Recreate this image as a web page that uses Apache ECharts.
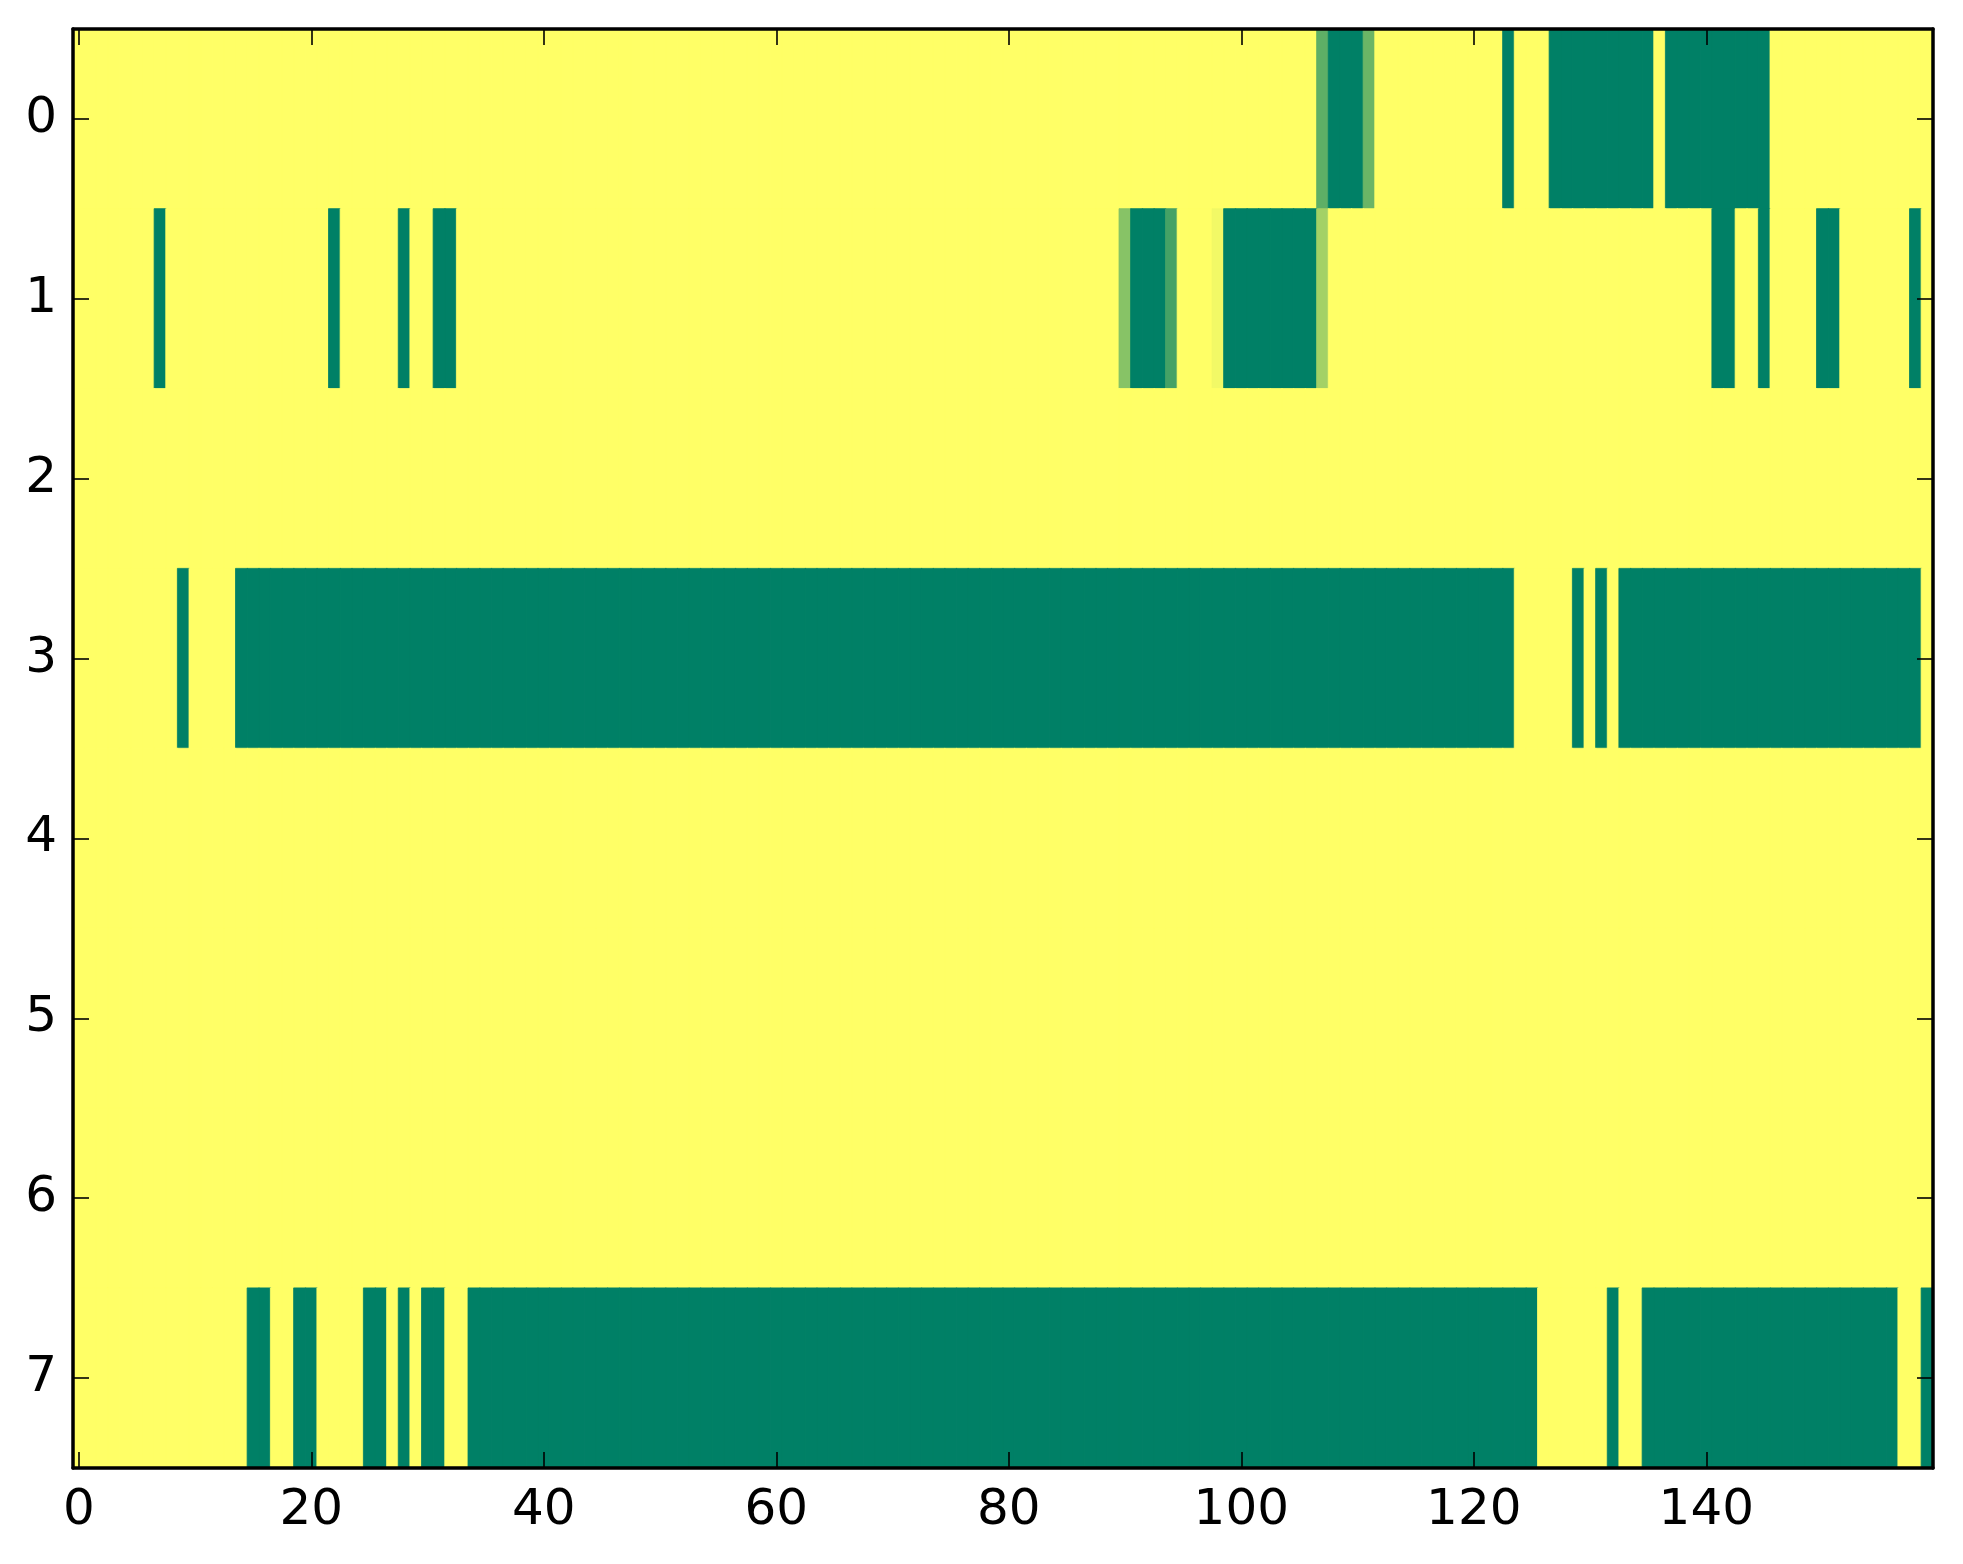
<!DOCTYPE html>
<html>
<head>
<meta charset="utf-8">
<script src="https://cdn.jsdelivr.net/npm/echarts@6/dist/echarts.min.js"></script>
<style>
html,body{margin:0;padding:0;background:#fff;}
#chart{width:1963px;height:1564px;}
</style>
</head>
<body>
<div id="chart"></div>
<script>
// Row labels (top to bottom) and x tick labels
const rowLabels = ['0','1','2','3','4','5','6','7'];
const xTickLabels = ['0','20','40','60','80','100','120','140'];
const columnCount = 160;
// colormap end points (value 0 -> green, value 1 -> yellow)
const colorLow = '#008066';
const colorHigh = '#ffff66';

// Cell values per row (0 = green, 1 = yellow), columns 0..159
const row0 = [
1,1,1,1,1,1,1,1,1,1, 1,1,1,1,1,1,1,1,1,1,
1,1,1,1,1,1,1,1,1,1, 1,1,1,1,1,1,1,1,1,1,
1,1,1,1,1,1,1,1,1,1, 1,1,1,1,1,1,1,1,1,1,
1,1,1,1,1,1,1,1,1,1, 1,1,1,1,1,1,1,1,1,1,
1,1,1,1,1,1,1,1,1,1, 1,1,1,1,1,1,1,1,1,1,
1,1,1,1,1,1,1,0.37,0,0, 0,0.42,1,1,1,1,1,1,1,1,
1,1,1,0,1,1,1,0,0,0, 0,0,0,0,0,0,1,0,0,0,
0,0,0,0,0,0,1,1,1,1, 1,1,1,1,1,1,1,1,1,1
];
const row1 = [
1,1,1,1,1,1,1,0,1,1, 1,1,1,1,1,1,1,1,1,1,
1,1,0,1,1,1,1,1,0,1, 1,0,0,1,1,1,1,1,1,1,
1,1,1,1,1,1,1,1,1,1, 1,1,1,1,1,1,1,1,1,1,
1,1,1,1,1,1,1,1,1,1, 1,1,1,1,1,1,1,1,1,1,
1,1,1,1,1,1,1,1,1,1, 0.53,0,0,0,0.27,1,1,1,0.95,0,
0,0,0,0,0,0,0,0.64,1,1, 1,1,1,1,1,1,1,1,1,1,
1,1,1,1,1,1,1,1,1,1, 1,1,1,1,1,1,1,1,1,1,
1,0,0,1,1,0,1,1,1,1, 0,0,1,1,1,1,1,1,0,1
];
const row2 = [
1,1,1,1,1,1,1,1,1,1, 1,1,1,1,1,1,1,1,1,1,
1,1,1,1,1,1,1,1,1,1, 1,1,1,1,1,1,1,1,1,1,
1,1,1,1,1,1,1,1,1,1, 1,1,1,1,1,1,1,1,1,1,
1,1,1,1,1,1,1,1,1,1, 1,1,1,1,1,1,1,1,1,1,
1,1,1,1,1,1,1,1,1,1, 1,1,1,1,1,1,1,1,1,1,
1,1,1,1,1,1,1,1,1,1, 1,1,1,1,1,1,1,1,1,1,
1,1,1,1,1,1,1,1,1,1, 1,1,1,1,1,1,1,1,1,1,
1,1,1,1,1,1,1,1,1,1, 1,1,1,1,1,1,1,1,1,1
];
const row3 = [
1,1,1,1,1,1,1,1,1,0, 1,1,1,1,0,0,0,0,0,0,
0,0,0,0,0,0,0,0,0,0, 0,0,0,0,0,0,0,0,0,0,
0,0,0,0,0,0,0,0,0,0, 0,0,0,0,0,0,0,0,0,0,
0,0,0,0,0,0,0,0,0,0, 0,0,0,0,0,0,0,0,0,0,
0,0,0,0,0,0,0,0,0,0, 0,0,0,0,0,0,0,0,0,0,
0,0,0,0,0,0,0,0,0,0, 0,0,0,0,0,0,0,0,0,0,
0,0,0,0,1,1,1,1,1,0, 1,0,1,0,0,0,0,0,0,0,
0,0,0,0,0,0,0,0,0,0, 0,0,0,0,0,0,0,0,0,1
];
const row4 = [
1,1,1,1,1,1,1,1,1,1, 1,1,1,1,1,1,1,1,1,1,
1,1,1,1,1,1,1,1,1,1, 1,1,1,1,1,1,1,1,1,1,
1,1,1,1,1,1,1,1,1,1, 1,1,1,1,1,1,1,1,1,1,
1,1,1,1,1,1,1,1,1,1, 1,1,1,1,1,1,1,1,1,1,
1,1,1,1,1,1,1,1,1,1, 1,1,1,1,1,1,1,1,1,1,
1,1,1,1,1,1,1,1,1,1, 1,1,1,1,1,1,1,1,1,1,
1,1,1,1,1,1,1,1,1,1, 1,1,1,1,1,1,1,1,1,1,
1,1,1,1,1,1,1,1,1,1, 1,1,1,1,1,1,1,1,1,1
];
const row5 = [
1,1,1,1,1,1,1,1,1,1, 1,1,1,1,1,1,1,1,1,1,
1,1,1,1,1,1,1,1,1,1, 1,1,1,1,1,1,1,1,1,1,
1,1,1,1,1,1,1,1,1,1, 1,1,1,1,1,1,1,1,1,1,
1,1,1,1,1,1,1,1,1,1, 1,1,1,1,1,1,1,1,1,1,
1,1,1,1,1,1,1,1,1,1, 1,1,1,1,1,1,1,1,1,1,
1,1,1,1,1,1,1,1,1,1, 1,1,1,1,1,1,1,1,1,1,
1,1,1,1,1,1,1,1,1,1, 1,1,1,1,1,1,1,1,1,1,
1,1,1,1,1,1,1,1,1,1, 1,1,1,1,1,1,1,1,1,1
];
const row6 = [
1,1,1,1,1,1,1,1,1,1, 1,1,1,1,1,1,1,1,1,1,
1,1,1,1,1,1,1,1,1,1, 1,1,1,1,1,1,1,1,1,1,
1,1,1,1,1,1,1,1,1,1, 1,1,1,1,1,1,1,1,1,1,
1,1,1,1,1,1,1,1,1,1, 1,1,1,1,1,1,1,1,1,1,
1,1,1,1,1,1,1,1,1,1, 1,1,1,1,1,1,1,1,1,1,
1,1,1,1,1,1,1,1,1,1, 1,1,1,1,1,1,1,1,1,1,
1,1,1,1,1,1,1,1,1,1, 1,1,1,1,1,1,1,1,1,1,
1,1,1,1,1,1,1,1,1,1, 1,1,1,1,1,1,1,1,1,1
];
const row7 = [
1,1,1,1,1,1,1,1,1,1, 1,1,1,1,1,0,0,1,1,0,
0,1,1,1,1,0,0,1,0,1, 0,0,1,1,0,0,0,0,0,0,
0,0,0,0,0,0,0,0,0,0, 0,0,0,0,0,0,0,0,0,0,
0,0,0,0,0,0,0,0,0,0, 0,0,0,0,0,0,0,0,0,0,
0,0,0,0,0,0,0,0,0,0, 0,0,0,0,0,0,0,0,0,0,
0,0,0,0,0,0,0,0,0,0, 0,0,0,0,0,0,0,0,0,0,
0,0,0,0,0,0,1,1,1,1, 1,1,0,1,1,0,0,0,0,0,
0,0,0,0,0,0,0,0,0,0, 0,0,0,0,0,0,0,1,1,0
];
const rows = [row0,row1,row2,row3,row4,row5,row6,row7];

const xCategories = Array.from({length: columnCount}, (_, i) => String(i));
const xLabelSet = new Set(xTickLabels);

// build heatmap items; colour each cell with the library's colour interpolation
const cells = [];
rows.forEach((row, r) => {
  row.forEach((v, c) => {
    const col = echarts.color.lerp(v, [colorLow, colorHigh]);
    cells.push({value: [c, r, v], itemStyle: {color: col, borderColor: col, borderWidth: 0.8}});
  });
});

const FONT = 'DejaVu Sans';
const spine = {show: true, lineStyle: {color: '#000', width: 3.5}};
const tick = {show: true, inside: true, length: 16, alignWithLabel: true, lineStyle: {color: '#000', width: 1.6}};

const chart = echarts.init(document.getElementById('chart'));
chart.setOption({
  backgroundColor: '#ffffff',
  animation: false,
  grid: {left: 73, right: 30, top: 29, bottom: 96, containLabel: false},
  xAxis: [
    {
      type: 'category', data: xCategories, position: 'bottom', z: 10,
      axisLine: spine,
      axisTick: Object.assign({}, tick, {interval: (i, v) => xLabelSet.has(v)}),
      axisLabel: {interval: (i, v) => xLabelSet.has(v), color: '#000', fontFamily: FONT, fontSize: 50, margin: 18},
      splitLine: {show: false}
    },
    {
      type: 'category', data: xCategories, position: 'top', z: 10,
      axisLine: spine,
      axisTick: Object.assign({}, tick, {interval: (i, v) => xLabelSet.has(v)}),
      axisLabel: {show: false},
      splitLine: {show: false}
    }
  ],
  yAxis: [
    {
      type: 'category', data: rowLabels, inverse: true, position: 'left', z: 10,
      axisLine: spine, axisTick: tick,
      axisLabel: {color: '#000', fontFamily: FONT, fontSize: 50, margin: 16},
      splitLine: {show: false}
    },
    {
      type: 'category', data: rowLabels, inverse: true, position: 'right', z: 10,
      axisLine: spine, axisTick: tick,
      axisLabel: {show: false},
      splitLine: {show: false}
    }
  ],
  series: [{
    type: 'heatmap',
    xAxisIndex: 0, yAxisIndex: 0,
    data: cells,
    emphasis: {disabled: true},
    progressive: 0
  }]
});
</script>
</body>
</html>
